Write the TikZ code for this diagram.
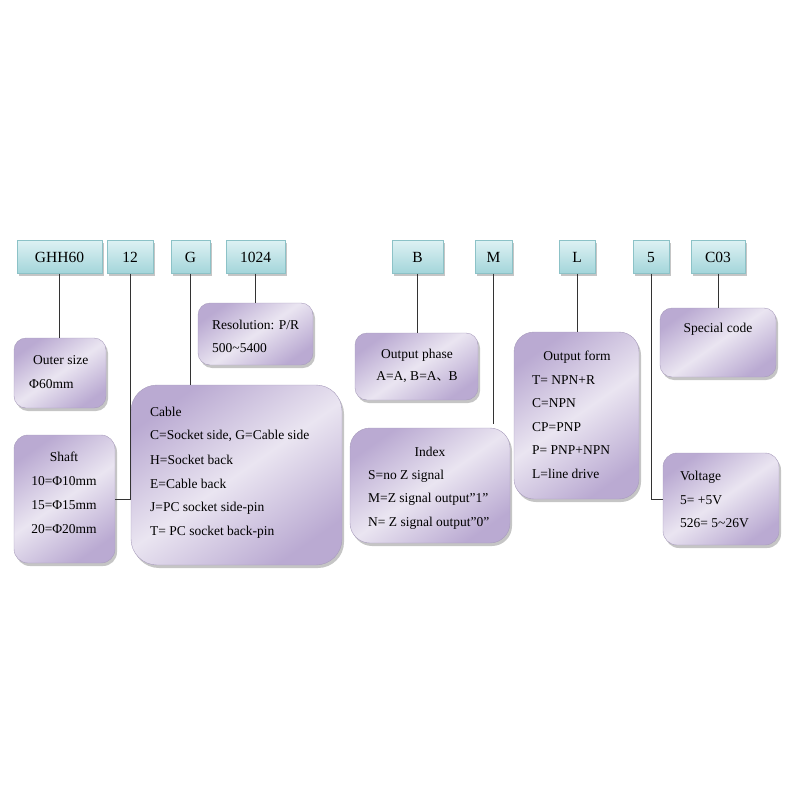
\documentclass[tikz,border=0pt]{standalone}
\usepackage{fontspec}
\setmainfont{Liberation Serif}
\newfontfamily\cjk{Noto Sans CJK SC}
\usetikzlibrary{shadows}
\definecolor{codetop}{HTML}{DDF1F3}
\definecolor{codebot}{HTML}{A3D5DA}
\definecolor{codeedge}{HTML}{8CC2C7}
\definecolor{infolight}{HTML}{EAE5F1}
\definecolor{infodark}{HTML}{BAAAD2}
\definecolor{infoedge}{HTML}{A89CBC}
\tikzset{
  codebox/.style={draw=codeedge, top color=codetop, bottom color=codebot,
    inner sep=0pt, font=\fontsize{15.5}{18}\selectfont,
    drop shadow={shadow xshift=2pt, shadow yshift=-2pt, fill=black!45, opacity=0.5}},
  infobox/.style={draw=infoedge, rounded corners=14pt, top color=infodark,
    bottom color=infodark, middle color=infolight, shading angle=35,
    drop shadow={shadow xshift=2pt, shadow yshift=-3pt, fill=black!45, opacity=0.5}},
  txt/.style={inner sep=0pt, font=\fontsize{13.5}{16}\selectfont},
  link/.style={draw=black!80, line width=0.9pt}
}
\begin{document}
\begin{tikzpicture}[x=1pt, y=-1pt]
        \useasboundingbox (0,0) rectangle (800,800);
        % code boxes
        \node (ghh) [codebox, minimum width=85pt, minimum height=33pt] at (59.5,257) {GHH60};
        \node (c12) [codebox, minimum width=46pt, minimum height=33pt] at (130,257) {12};
        \node (cg) [codebox, minimum width=39pt, minimum height=33pt] at (190.5,257) {G};
        \node (c1024) [codebox, minimum width=59pt, minimum height=33pt] at (255.5,257) {1024};
        \node (cb) [codebox, minimum width=51pt, minimum height=33pt] at (417.5,257) {B};
        \node (cm) [codebox, minimum width=37pt, minimum height=33pt] at (493.5,257) {M};
        \node (cl) [codebox, minimum width=36pt, minimum height=33pt] at (577,257) {L};
        \node (c5) [codebox, minimum width=36pt, minimum height=33pt] at (651,257) {5};
        \node (cc03) [codebox, minimum width=54pt, minimum height=33pt] at (718,257) {C03};
        % description boxes
        \node (outer) [infobox, rounded corners=12pt, minimum width=92pt, minimum height=70pt] at (60,373) {};
        \node (shaft) [infobox, minimum width=101pt, minimum height=128pt] at (64.5,499) {};
        \node (cable) [infobox, rounded corners=26pt, minimum width=211pt, minimum height=180pt] at (236.5,475) {};
        \node (resol) [infobox, rounded corners=12pt, minimum width=115pt, minimum height=62pt] at (255.5,334) {};
        \node (phase) [infobox, rounded corners=12pt, minimum width=123pt, minimum height=67pt] at (416.5,366.5) {};
        \node (index) [infobox, rounded corners=20pt, minimum width=160pt, minimum height=115pt] at (430,485.5) {};
        \node (oform) [infobox, rounded corners=20pt, minimum width=125pt, minimum height=167pt] at (576.5,415.5) {};
        \node (special) [infobox, rounded corners=12pt, minimum width=116pt, minimum height=69pt] at (718,342.5) {};
        \node (volt) [infobox, minimum width=116pt, minimum height=92pt] at (721,499) {};
        % texts
        \node (outerA) [txt, anchor=west] at (33,360) {Outer size};
        \node (outerB) [txt, anchor=west] at (29,384) {Φ60mm};
        \node (shaftA) [txt] at (64,457) {Shaft};
        \node (shaftB) [txt] at (64,481) {10=Φ10mm};
        \node (shaftC) [txt] at (64,505) {15=Φ15mm};
        \node (shaftD) [txt] at (64,529) {20=Φ20mm};
        \node (cableA) [txt, anchor=west] at (150,412) {Cable};
        \node (cableB) [txt, anchor=west] at (150,436) {C=Socket side, G=Cable side};
        \node (cableC) [txt, anchor=west] at (150,460) {H=Socket back};
        \node (cableD) [txt, anchor=west] at (150,484) {E=Cable back};
        \node (cableE) [txt, anchor=west] at (150,508) {J=PC socket side-pin};
        \node (cableF) [txt, anchor=west] at (150,532) {T= PC socket back-pin};
        \node (resolA) [txt, anchor=west] at (212,325) {Resolution: P/R};
        \node (resolB) [txt, anchor=west] at (212,348) {500\textasciitilde5400};
        \node (phaseA) [txt] at (417,355) {Output phase};
        \node (phaseB) [txt] at (417,377) {A=A, B=A{\cjk\fontsize{12}{14}\selectfont 、}B};
        \node (indexA) [txt] at (430,452) {Index};
        \node (indexB) [txt, anchor=west] at (368,476) {S=no Z signal};
        \node (indexC) [txt, anchor=west] at (368,499) {M=Z signal output”1”};
        \node (indexD) [txt, anchor=west] at (368,523) {N= Z signal output”0”};
        \node (oformA) [txt] at (577,357) {Output form};
        \node (oformB) [txt, anchor=west] at (532,380) {T= NPN+R};
        \node (oformC) [txt, anchor=west] at (532,403) {C=NPN};
        \node (oformD) [txt, anchor=west] at (532,427) {CP=PNP};
        \node (oformE) [txt, anchor=west] at (532,450) {P= PNP+NPN};
        \node (oformF) [txt, anchor=west] at (532,474) {L=line drive};
        \node (specialA) [txt] at (718,329) {Special code};
        \node (voltA) [txt, anchor=west] at (680,477) {Voltage};
        \node (voltB) [txt, anchor=west] at (680,500) {5= +5V};
        \node (voltC) [txt, anchor=west] at (680,523) {526= 5\textasciitilde26V};
        % connectors
        \draw [link] (ghh.south) -- (ghh.south |- outer.north);
        \draw [link] (c12.south) |- (shaft.east);
        \draw [link] (cg.south) -- (cg.south |- cable.north);
        \draw [link] (c1024.south) -- (c1024.south |- resol.north);
        \draw [link] (cb.south) -- (cb.south |- phase.north);
        \draw [link] (cm.south) -- ([yshift=4pt]cm.south |- index.north);
        \draw [link] (cl.south) -- (cl.south |- oform.north);
        \draw [link] (c5.south) |- (volt.west);
        \draw [link] (cc03.south) -- (cc03.south |- special.north);
\end{tikzpicture}
\end{document}
